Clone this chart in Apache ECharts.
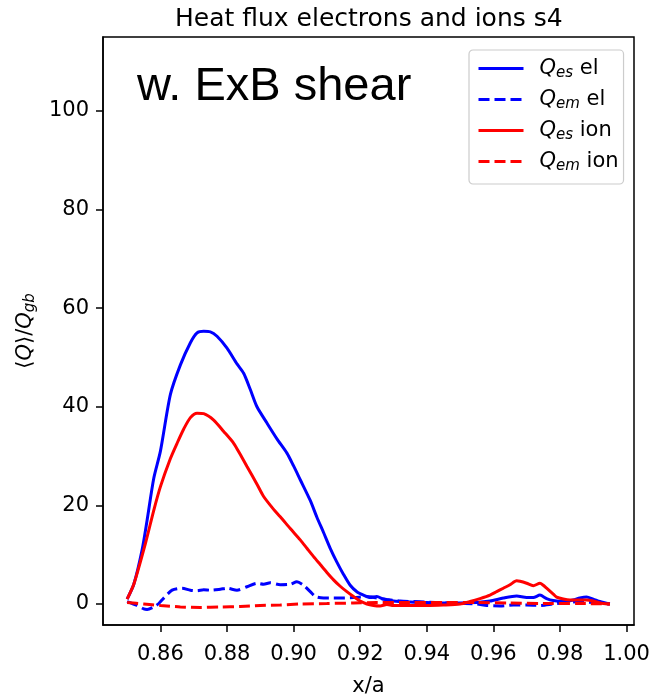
<!DOCTYPE html>
<html><head><meta charset="utf-8">
<script src="https://cdn.jsdelivr.net/npm/echarts@6/dist/echarts.min.js"></script>
<style>html,body{margin:0;padding:0;background:#fff}#c{width:652px;height:696px}</style>
</head><body><div id="c"></div>
<script>
const titleText = 'Heat flux electrons and ions s4';
const annotation = 'w. ExB shear';
const xTicks = [0.86, 0.88, 0.90, 0.92, 0.94, 0.96, 0.98, 1.00];
const yTicks = [0, 20, 40, 60, 80, 100];
const seriesNames = ['Qes el', 'Qem el', 'Qes ion', 'Qem ion'];

const qesElX = [0.850,0.852,0.8545,0.856,0.858,0.860,0.863,0.866,0.869,0.871,0.873,0.875,0.877,0.880,0.883,0.885,0.887,0.889,0.892,0.895,0.898,0.900,0.902,0.905,0.907,0.909,0.911,0.913,0.915,0.917,0.919,0.921,0.923,0.925,0.927,0.930,0.935,0.940,0.945,0.950,0.955,0.959,0.963,0.967,0.970,0.972,0.974,0.976,0.978,0.981,0.984,0.986,0.988,0.990,0.992,0.995];
const qesElY = [1.0,4.0,11.0,17.0,25.5,31.0,42.5,48.5,53.0,55.0,55.3,55.2,54.3,51.9,48.7,46.8,43.5,40.0,36.7,33.5,30.6,28.0,25.2,21.0,17.6,14.5,11.3,8.5,6.0,3.8,2.5,1.8,1.3,1.5,1.0,0.6,0.4,0.3,0.2,0.2,0.3,0.6,1.2,1.6,1.3,1.3,1.8,1.1,0.7,0.5,0.8,1.2,1.4,1.0,0.5,0.0];

const qemElX = [0.850,0.853,0.855,0.856,0.858,0.8595,0.861,0.8635,0.8665,0.869,0.871,0.873,0.875,0.878,0.880,0.883,0.886,0.889,0.891,0.893,0.896,0.899,0.901,0.903,0.905,0.9066,0.909,0.912,0.918,0.922,0.925,0.928,0.932,0.936,0.940,0.945,0.950,0.955,0.958,0.962,0.966,0.970,0.974,0.978,0.982,0.986,0.990,0.995];
const qemElY = [0.5,-0.3,-1.0,-1.1,-0.6,0.1,1.2,2.8,3.2,2.8,2.7,2.9,2.8,3.0,3.2,2.8,3.5,4.2,4.0,4.3,3.9,4.0,4.5,3.8,2.5,1.5,1.2,1.2,1.3,1.5,1.2,0.9,0.6,0.5,0.4,0.2,0.1,0.0,-0.3,-0.4,-0.2,-0.2,-0.3,0.0,0.3,0.5,0.3,0.0];

const qesIonX = [0.850,0.852,0.8555,0.858,0.860,0.863,0.865,0.867,0.869,0.871,0.873,0.876,0.879,0.882,0.884,0.886,0.889,0.891,0.894,0.896,0.899,0.902,0.904,0.906,0.908,0.910,0.912,0.914,0.916,0.918,0.920,0.922,0.924,0.926,0.928,0.930,0.935,0.940,0.945,0.950,0.953,0.956,0.959,0.961,0.963,0.965,0.967,0.968,0.970,0.972,0.974,0.975,0.976,0.978,0.979,0.981,0.983,0.986,0.988,0.990,0.993,0.995];
const qesIonY = [1.0,4.0,12.3,19.0,23.8,29.5,32.6,35.5,37.8,38.7,38.6,37.3,35.0,32.6,30.3,27.9,24.3,21.8,19.2,17.7,15.3,13.0,11.3,9.6,8.0,6.4,4.9,3.6,2.5,1.5,0.6,0.0,-0.3,-0.4,-0.1,-0.3,-0.3,-0.3,-0.2,0.0,0.5,1.1,1.8,2.5,3.2,3.9,4.7,4.6,4.2,3.7,4.2,3.8,3.2,2.0,1.4,1.0,0.8,0.8,0.8,0.6,0.1,0.0];

const qemIonX = [0.850,0.855,0.860,0.866,0.872,0.878,0.884,0.890,0.896,0.902,0.910,0.918,0.925,0.935,0.945,0.955,0.965,0.975,0.985,0.995];
const qemIonY = [0.3,0.0,-0.3,-0.6,-0.7,-0.6,-0.5,-0.3,-0.2,0.0,0.1,0.2,0.3,0.3,0.3,0.3,0.2,0.1,0.1,0.0];

const zip = (xs, ys) => xs.map((x, i) => [x, ys[i]]);
const FONT = 'DejaVu Sans';
const BLUE = '#0000ff', RED = '#ff0000';
const DASH = [11, 5];

const legendLabels = {
  'Qes el': '{g| }{i|Q}{s|es} el',
  'Qem el': '{g| }{i|Q}{s|em} el',
  'Qes ion': '{g| }{i|Q}{s|es} ion',
  'Qem ion': '{g| }{i|Q}{s|em} ion'
};

const chart = echarts.init(document.getElementById('c'), null, {renderer: 'canvas'});
const mkSeries = (name, xs, ys, color, type) => ({
  name, type: 'line', data: zip(xs, ys), showSymbol: false, symbol: 'none', smooth: 0.25,
  lineStyle: {color, width: 3, type}, itemStyle: {color}, animation: false, clip: true
});

chart.setOption({
  animation: false,
  backgroundColor: '#fff',
  title: {
    text: titleText, left: 170, top: 2,
    textStyle: {fontFamily: FONT, fontSize: 25, fontWeight: 'normal', color: '#000'}
  },
  grid: {left: 103, top: 37, width: 531, height: 588, show: true, borderColor: '#000', borderWidth: 1.5,
    containLabel: false, outerBoundsMode: 'none'},
  xAxis: {
    type: 'value', min: 0.84275, max: 1.00225,
    axisLine: {show: true, onZero: false, lineStyle: {color: '#000', width: 1.5}},
    splitLine: {show: false},
    axisTick: {show: true, inside: false, length: 7, lineStyle: {color: '#000', width: 1.5}, customValues: xTicks},
    axisLabel: {customValues: xTicks, margin: 19, fontFamily: FONT, fontSize: 21, color: '#000',
      formatter: v => v.toFixed(2)},
    name: 'x/a', nameLocation: 'middle', nameGap: 51,
    nameTextStyle: {fontFamily: FONT, fontSize: 21, color: '#000'}
  },
  yAxis: {
    type: 'value', min: -4.26, max: 115,
    axisLine: {show: true, onZero: false, lineStyle: {color: '#000', width: 1.5}},
    splitLine: {show: false},
    axisTick: {show: true, inside: false, length: 7, lineStyle: {color: '#000', width: 1.5}, customValues: yTicks},
    axisLabel: {customValues: yTicks, margin: 14, fontFamily: FONT, fontSize: 21, color: '#000'},
    name: '{t|⟨}{i|Q}{t|⟩/}{i|Q}{s|gb}', nameLocation: 'middle', nameRotate: 90, nameGap: 56,
    nameTextStyle: {fontFamily: FONT, fontSize: 21, color: '#000', rich: {
      t: {fontFamily: FONT, fontSize: 21, color: '#000'},
      i: {fontFamily: FONT, fontSize: 21, fontStyle: 'italic', color: '#000'},
      s: {fontFamily: FONT, fontSize: 15, fontStyle: 'italic', color: '#000', padding: [10, 0, 0, 0]}
    }}
  },
  legend: {
    orient: 'vertical', left: 469, top: 50,
    padding: [8, 5, 10, 8], itemWidth: 45, itemHeight: 14, itemGap: 8,
    backgroundColor: 'rgba(255,255,255,0.8)', borderColor: '#cccccc', borderWidth: 1.2, borderRadius: 4,
    data: seriesNames,
    itemStyle: {opacity: 0},
    lineStyle: {width: 3},
    formatter: n => legendLabels[n],
    textStyle: {fontFamily: FONT, fontSize: 21, color: '#000', rich: {
      g: {width: 11, fontSize: 21},
      i: {fontFamily: FONT, fontSize: 21, fontStyle: 'italic', color: '#000'},
      s: {fontFamily: FONT, fontSize: 15, fontStyle: 'italic', color: '#000', padding: [10, 0, 0, 0]}
    }}
  },
  graphic: [{
    type: 'text', left: 137, top: 64, z: 10,
    style: {text: annotation, font: '47px "Liberation Sans"', fill: '#000'}
  }],
  series: [
    mkSeries(seriesNames[0], qesElX, qesElY, BLUE, 'solid'),
    mkSeries(seriesNames[1], qemElX, qemElY, BLUE, DASH),
    mkSeries(seriesNames[2], qesIonX, qesIonY, RED, 'solid'),
    mkSeries(seriesNames[3], qemIonX, qemIonY, RED, DASH)
  ]
});
</script></body></html>
